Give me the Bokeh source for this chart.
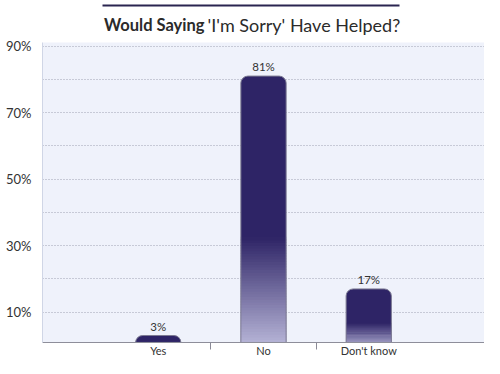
from bokeh.plotting import figure
from bokeh.models import Range1d, FixedTicker
from bokeh.core.properties import value
from bokeh.embed import file_html
from bokeh.resources import INLINE

# ---- data ----
categories = ["Yes", "No", "Don't know"]
percent = [3, 81, 17]
y_tick_values = [10, 30, 50, 70, 90]
y_tick_labels = ["10%", "30%", "50%", "70%", "90%"]
grid_values = [10, 20, 30, 40, 50, 60, 70, 80, 90]
title_bold = "Would Saying"
title_rest = "'I'm Sorry' Have Helped?"

# ---- styles / layout ----
FONT = "Lato"
DARK = (46, 36, 102)
LIGHT = (184, 182, 216)
TEXT = "#333333"
L, FW, FH, BOT = 42, 442, 342, 16     # left border, frame size, bottom border
TOP_PX = 42                            # pixels above the plot area (title zone)
Y0, Y1 = 0.9, 91.1                     # value range of the plot area
X0, X1 = -0.6, len(categories) + 0.6

def hexc(c):
    return "#%02x%02x%02x" % c

def mix(a, b, t):
    return tuple(int(round(a[i] + (b[i] - a[i]) * t)) for i in range(3))

s = (FH - TOP_PX) / (Y1 - Y0)          # pixels per percent
YTOP = Y1 + TOP_PX / s

def px_x(c):   # canvas x pixel -> data x
    return X0 + (c - L) * (X1 - X0) / FW

def px_y(r):   # canvas y pixel (from top) -> data y
    return YTOP - r / s

p = figure(frame_width=FW, frame_height=FH, output_backend="svg", toolbar_location=None,
           x_range=Range1d(X0, X1), y_range=Range1d(Y0, YTOP),
           min_border_left=L, min_border_right=0, min_border_top=0, min_border_bottom=BOT,
           title=None)
p.background_fill_color = "white"
p.border_fill_color = "white"
p.outline_line_color = None

# plot-area background
p.quad(left=[X0], right=[X1], bottom=[Y0], top=[Y1], fill_color="#eff2fb",
       line_color=None, level="image")

p.xgrid.visible = False
p.ygrid.ticker = FixedTicker(ticks=grid_values)
p.ygrid.grid_line_color = "#9fa3b3"
p.ygrid.grid_line_dash = "1 2"

xs = [i + 0.5 for i in range(len(categories))]
bounds = [i for i in range(1, len(categories))]
bar_w = 0.43

# bars: dark body
p.vbar(x=xs, top=percent, bottom=0, width=bar_w, fill_color=hexc(DARK),
       line_color=None, border_radius=(7, 7, 0, 0))

# gradient in lower 40% of each bar
N = 40
gx, gb, gt, gc = [], [], [], []
for xi, v in zip(xs, percent):
    h = v * 0.4
    for k in range(N):
        gx.append(xi)
        gb.append(h * k / N)
        gt.append(h * (k + 1) / N + h * 0.01)
        gc.append(hexc(mix(LIGHT, DARK, (k + 0.5) / N)))
p.vbar(x=gx, bottom=gb, top=gt, width=bar_w, fill_color=gc, line_color=None)

# outline
p.vbar(x=xs, top=percent, bottom=0, width=bar_w, fill_alpha=0,
       line_color="#7c7a92", line_width=1, border_radius=(7, 7, 0, 0))

# value labels
p.text(x=xs, y=percent, text=[f"{v}%" for v in percent], text_align="center",
       text_baseline="bottom", y_offset=-3, text_font=value(FONT),
       text_font_size="11.5px", text_color=TEXT)

# title rule and title
p.segment(x0=[px_x(102)], y0=[px_y(5)], x1=[px_x(399)], y1=[px_y(5)],
          line_color="#2a2550", line_width=2)
p.text(x=[px_x(204)], y=[px_y(24)], text=[title_bold], text_align="right",
       text_baseline="alphabetic", text_font=value(FONT), text_font_style="bold",
       text_font_size="16.5px", text_color="#2b2b2b")
p.text(x=[px_x(207)], y=[px_y(24)], text=[title_rest], text_align="left",
       text_baseline="alphabetic", text_font=value(FONT),
       text_font_size="18px", text_color="#2b2b2b")

# x axis
xa = p.xaxis[0]
xa.ticker = FixedTicker(ticks=xs, minor_ticks=bounds)
xa.major_label_overrides = {xi: c for xi, c in zip(xs, categories)}
xa.major_tick_line_color = None
xa.major_tick_out = 0
xa.major_tick_in = 0
xa.minor_tick_line_color = "#8a8a96"
xa.minor_tick_out = 7
xa.minor_tick_in = 0
xa.axis_line_color = "#8e8e9a"
xa.major_label_standoff = -6
xa.major_label_text_font = FONT
xa.major_label_text_font_size = "11px"
xa.major_label_text_color = TEXT

# y axis
ya = p.yaxis[0]
ya.bounds = (Y0, Y1)
ya.ticker = FixedTicker(ticks=y_tick_values)
ya.major_label_overrides = {v: l for v, l in zip(y_tick_values, y_tick_labels)}
ya.major_tick_line_color = None
ya.major_tick_out = 0
ya.major_tick_in = 0
ya.minor_tick_line_color = None
ya.axis_line_color = "#d0d6e6"
ya.major_label_standoff = 11
ya.major_label_text_font = FONT
ya.major_label_text_font_size = "13px"
ya.major_label_text_color = TEXT

open("out.html", "w").write(file_html(p, INLINE))
